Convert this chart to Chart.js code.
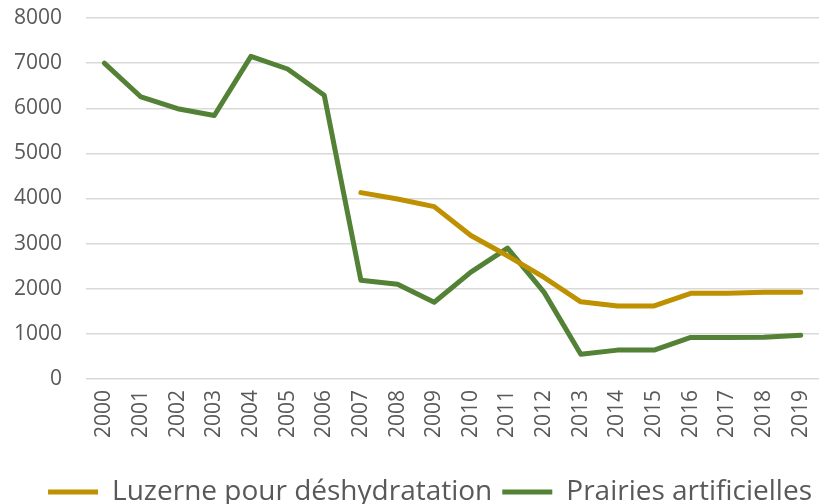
<!DOCTYPE html>
<html>
<head>
<meta charset="utf-8">
<script src="https://cdn.jsdelivr.net/npm/chart.js@4"></script>
<style>
  html, body { margin: 0; padding: 0; background: #fff; }
  #wrap { width: 833px; height: 504px; }
</style>
</head>
<body>
<div id="wrap"><canvas id="chart"></canvas></div>
<script>
const years = ['2000', '2001', '2002', '2003', '2004', '2005', '2006', '2007', '2008', '2009',
               '2010', '2011', '2012', '2013', '2014', '2015', '2016', '2017', '2018', '2019'];
const luzerne = [null, null, null, null, null, null, null, 4130, 3990, 3820,
                 3180, 2730, 2250, 1710, 1620, 1620, 1900, 1900, 1920, 1920];
const prairies = [7000, 6250, 5990, 5840, 7150, 6870, 6290, 2190, 2100, 1700,
                  2370, 2900, 1920, 550, 640, 640, 920, 920, 925, 970];
const seriesNames = ['Luzerne pour déshydratation', 'Prairies artificielles'];

const textColor = '#595959';

const ctx = document.getElementById('chart').getContext('2d');
const chart = new Chart(ctx, {
    type: 'line',
    data: {
        labels: years,
        datasets: [
            {
                label: seriesNames[0],
                data: luzerne,
                borderColor: '#BF9000',
                backgroundColor: '#BF9000',
                borderWidth: 5,
                borderCapStyle: 'round',
                borderJoinStyle: 'round',
                pointRadius: 0,
                tension: 0
            },
            {
                label: seriesNames[1],
                data: prairies,
                borderColor: '#538135',
                backgroundColor: '#538135',
                borderWidth: 5,
                borderCapStyle: 'round',
                borderJoinStyle: 'round',
                pointRadius: 0,
                tension: 0
            }
        ]
    },
    options: {
        responsive: true,
        maintainAspectRatio: false,
        animation: false,
        // negative bottom: push the legend row down past its own padding
        layout: { padding: { left: 14, right: 11, top: 0, bottom: -12 } },
        scales: {
            x: {
                offset: true,
                grid: { display: false, drawTicks: false },
                border: { display: false },
                ticks: {
                    color: textColor,
                    font: { family: '"Open Sans"', size: 21, lineHeight: 1 },
                    minRotation: 90,
                    maxRotation: 90,
                    padding: 11,
                    autoSkip: false
                },
                afterFit: (scale) => { scale.height = 89; }
            },
            y: {
                min: 0,
                max: 8000,
                grid: { color: '#d9d9d9', lineWidth: 1.5, drawTicks: false },
                border: { display: false },
                ticks: {
                    stepSize: 1000,
                    color: textColor,
                    font: { family: '"Open Sans"', size: 21 },
                    padding: 24,
                    callback: (v) => String(v)
                },
                afterFit: (scale) => {
                    // fixed width, and don't let the tick padding push the top down
                    scale.width = 72;
                    scale.paddingTop = 18;
                    scale.paddingBottom = 0;
                }
            }
        },
        plugins: {
            legend: {
                position: 'bottom',
                align: 'end',
                labels: {
                    color: textColor,
                    font: { family: '"Open Sans"', size: 28 },
                    usePointStyle: true,
                    pointStyle: 'line',
                    pointStyleWidth: 50,
                    padding: 10
                }
            },
            tooltip: { enabled: false }
        }
    }
});
</script>
</body>
</html>
